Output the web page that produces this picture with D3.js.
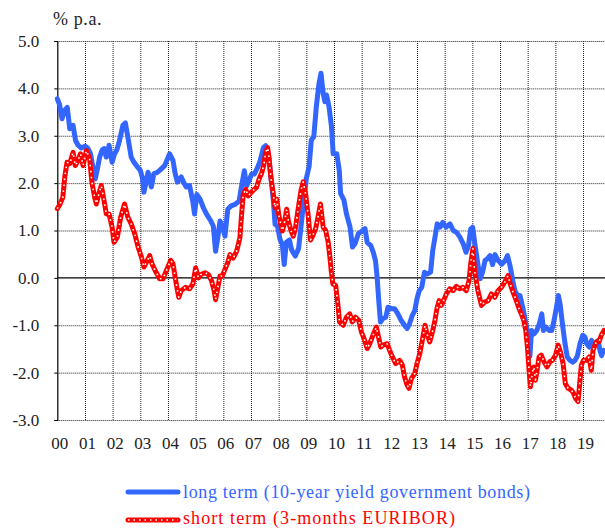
<!DOCTYPE html>
<html>
<head>
<meta charset="utf-8">
<script src="https://cdn.jsdelivr.net/npm/d3@7/dist/d3.min.js"></script>
<style>
  html, body { margin: 0; padding: 0; background: #fff; }
  svg { display: block; }
  text { font-family: "Liberation Serif", "Times New Roman", serif; }
</style>
</head>
<body>
<svg id="chart" width="605" height="531"></svg>
<script>
// Year labels along the bottom axis (two-digit years)
const yearLabels = ["00","01","02","03","04","05","06","07","08","09",
                    "10","11","12","13","14","15","16","17","18","19"];

// Value axis ticks, % p.a.
const yTicks = [5, 4, 3, 2, 1, 0, -1, -2, -3];

// Long-term rate: 10-year government bond yield, [decimal year, % p.a.]
const longTerm = [
  [2000.00, 3.78], [2000.08, 3.66], [2000.17, 3.36], [2000.27, 3.54], [2000.36, 3.60],
  [2000.45, 3.15], [2000.57, 3.22], [2000.66, 2.90], [2000.75, 2.80], [2000.87, 2.74],
  [2001.00, 2.78], [2001.10, 2.74], [2001.20, 2.62], [2001.30, 2.30], [2001.37, 2.09],
  [2001.45, 2.30], [2001.53, 2.55], [2001.62, 2.70], [2001.69, 2.73], [2001.77, 2.55],
  [2001.87, 2.80], [2001.98, 2.44], [2002.07, 2.62], [2002.15, 2.70], [2002.25, 2.90],
  [2002.37, 3.22], [2002.46, 3.27], [2002.55, 2.97], [2002.67, 2.55], [2002.76, 2.45],
  [2002.86, 2.37], [2003.00, 2.27], [2003.08, 2.10], [2003.13, 1.81], [2003.20, 2.00],
  [2003.28, 2.23], [2003.40, 1.92], [2003.49, 2.20], [2003.60, 2.22], [2003.70, 2.27],
  [2003.88, 2.37], [2004.06, 2.62], [2004.18, 2.48], [2004.26, 2.20], [2004.34, 2.02],
  [2004.48, 2.13], [2004.58, 2.00], [2004.66, 1.92], [2004.78, 1.95], [2004.90, 1.60],
  [2004.96, 1.35], [2005.04, 1.76], [2005.16, 1.66], [2005.28, 1.48], [2005.40, 1.34],
  [2005.55, 1.20], [2005.64, 1.09], [2005.72, 0.56], [2005.80, 0.85], [2005.88, 1.20],
  [2005.96, 1.09], [2006.06, 0.88], [2006.16, 1.45], [2006.28, 1.52], [2006.42, 1.55],
  [2006.57, 1.62], [2006.66, 1.94], [2006.76, 2.26], [2006.84, 1.94], [2006.93, 2.05],
  [2007.02, 2.19], [2007.12, 2.19], [2007.24, 2.33], [2007.33, 2.47], [2007.45, 2.75],
  [2007.53, 2.79], [2007.63, 2.61], [2007.72, 2.12], [2007.81, 1.62], [2007.87, 1.13],
  [2007.96, 1.09], [2008.05, 0.81], [2008.13, 0.71], [2008.20, 0.28], [2008.28, 0.75],
  [2008.39, 0.80], [2008.47, 0.59], [2008.60, 0.46], [2008.72, 0.62], [2008.82, 1.15],
  [2008.90, 1.60], [2009.00, 2.10], [2009.10, 2.35], [2009.18, 2.91], [2009.27, 2.98],
  [2009.36, 3.61], [2009.46, 4.11], [2009.53, 4.32], [2009.61, 3.89], [2009.67, 3.72],
  [2009.73, 3.86], [2009.82, 3.61], [2009.91, 3.19], [2009.97, 2.62], [2010.10, 2.62],
  [2010.19, 2.27], [2010.24, 1.78], [2010.36, 1.64], [2010.45, 1.35], [2010.58, 1.07],
  [2010.67, 0.65], [2010.76, 0.72], [2010.88, 0.93], [2011.04, 1.00], [2011.12, 1.04],
  [2011.20, 0.75], [2011.33, 0.68], [2011.42, 0.54], [2011.50, 0.36], [2011.56, 0.00],
  [2011.62, -0.50], [2011.68, -0.93], [2011.77, -0.86], [2011.87, -0.83], [2011.95, -0.62],
  [2012.07, -0.65], [2012.19, -0.65], [2012.31, -0.76], [2012.43, -0.90], [2012.55, -1.00],
  [2012.64, -1.07], [2012.73, -0.97], [2012.83, -0.79], [2012.92, -0.69], [2013.00, -0.44],
  [2013.08, -0.27], [2013.17, -0.20], [2013.27, 0.12], [2013.37, 0.08], [2013.49, 0.12],
  [2013.57, 0.58], [2013.65, 0.86], [2013.73, 1.14], [2013.83, 1.07], [2013.93, 1.17],
  [2014.05, 1.07], [2014.19, 1.14], [2014.31, 1.00], [2014.43, 0.96], [2014.55, 0.86],
  [2014.67, 0.72], [2014.77, 0.54], [2014.86, 0.68], [2014.94, 1.03], [2015.01, 1.07],
  [2015.10, 0.68], [2015.18, 0.37], [2015.28, -0.02], [2015.37, 0.12], [2015.46, 0.37],
  [2015.54, 0.40], [2015.64, 0.47], [2015.73, 0.28], [2015.82, 0.49], [2015.94, 0.36],
  [2016.06, 0.29], [2016.18, 0.36], [2016.27, 0.47], [2016.36, 0.26], [2016.46, -0.06],
  [2016.54, -0.27], [2016.63, -0.37], [2016.72, -0.37], [2016.82, -0.62], [2016.88, -0.79],
  [2016.96, -1.04], [2017.02, -1.32], [2017.08, -1.65], [2017.14, -1.11], [2017.23, -1.18],
  [2017.33, -1.11], [2017.42, -0.97], [2017.51, -0.76], [2017.57, -1.11], [2017.66, -1.04],
  [2017.78, -1.11], [2017.87, -1.11], [2017.95, -0.90], [2018.02, -0.69], [2018.11, -0.37],
  [2018.17, -0.55], [2018.27, -1.04], [2018.35, -1.39], [2018.43, -1.67], [2018.53, -1.74],
  [2018.63, -1.78], [2018.71, -1.74], [2018.80, -1.64], [2018.89, -1.39], [2018.99, -1.21],
  [2019.07, -1.25], [2019.13, -1.39], [2019.23, -1.46], [2019.31, -1.32], [2019.37, -1.42],
  [2019.47, -1.39], [2019.55, -1.32], [2019.61, -1.53], [2019.67, -1.64], [2019.74, -1.53]
];

// Short-term rate: 3-month EURIBOR, [decimal year, % p.a.]
const shortTerm = [
  [2000.00, 1.46], [2000.10, 1.56], [2000.20, 1.70], [2000.27, 2.13], [2000.35, 2.44],
  [2000.45, 2.41], [2000.57, 2.65], [2000.65, 2.37], [2000.75, 2.48], [2000.84, 2.62],
  [2000.93, 2.37], [2001.05, 2.69], [2001.17, 2.51], [2001.25, 2.02], [2001.35, 1.70],
  [2001.41, 1.56], [2001.50, 1.77], [2001.59, 1.95], [2001.69, 1.63], [2001.77, 1.35],
  [2001.87, 1.35], [2001.98, 1.07], [2002.05, 0.75], [2002.17, 0.86], [2002.29, 1.28],
  [2002.43, 1.56], [2002.55, 1.28], [2002.67, 1.14], [2002.80, 0.93], [2002.92, 0.65],
  [2003.04, 0.44], [2003.13, 0.23], [2003.22, 0.33], [2003.34, 0.47], [2003.42, 0.30],
  [2003.54, 0.15], [2003.70, -0.02], [2003.82, -0.02], [2003.94, 0.15], [2004.10, 0.37],
  [2004.18, 0.30], [2004.30, -0.13], [2004.39, -0.41], [2004.48, -0.27], [2004.63, -0.20],
  [2004.78, -0.23], [2004.90, -0.13], [2005.00, 0.21], [2005.10, 0.00], [2005.19, 0.07],
  [2005.34, 0.11], [2005.46, 0.07], [2005.58, -0.07], [2005.67, -0.28], [2005.72, -0.46],
  [2005.80, -0.21], [2005.88, 0.04], [2005.96, 0.04], [2006.06, 0.18], [2006.16, 0.32],
  [2006.24, 0.49], [2006.36, 0.42], [2006.48, 0.56], [2006.60, 0.85], [2006.66, 1.34],
  [2006.72, 1.76], [2006.81, 1.87], [2006.90, 1.73], [2007.00, 1.80], [2007.12, 1.87],
  [2007.20, 1.91], [2007.29, 2.08], [2007.39, 2.22], [2007.47, 2.40], [2007.53, 2.65],
  [2007.60, 2.75], [2007.65, 2.54], [2007.72, 2.12], [2007.81, 1.76], [2007.87, 1.48],
  [2007.93, 1.66], [2008.01, 1.31], [2008.08, 1.13], [2008.13, 0.99], [2008.20, 1.13],
  [2008.29, 1.45], [2008.35, 1.20], [2008.45, 0.99], [2008.53, 0.88], [2008.61, 1.06],
  [2008.71, 1.48], [2008.81, 1.85], [2008.89, 2.03], [2008.98, 1.75], [2009.07, 1.30],
  [2009.15, 0.80], [2009.24, 0.90], [2009.34, 1.05], [2009.42, 1.28], [2009.51, 1.56],
  [2009.61, 1.07], [2009.70, 1.00], [2009.79, 0.75], [2009.85, 0.45], [2009.90, 0.15],
  [2009.96, -0.13], [2010.06, -0.16], [2010.14, -0.55], [2010.20, -0.93], [2010.33, -1.00],
  [2010.45, -0.83], [2010.57, -0.76], [2010.66, -0.93], [2010.78, -0.83], [2010.90, -0.90],
  [2010.99, -1.14], [2011.11, -1.32], [2011.20, -1.49], [2011.29, -1.39], [2011.41, -1.21],
  [2011.53, -1.04], [2011.61, -1.25], [2011.69, -1.46], [2011.77, -1.42], [2011.92, -1.39],
  [2012.01, -1.53], [2012.11, -1.67], [2012.23, -1.81], [2012.37, -1.74], [2012.47, -1.84],
  [2012.55, -2.09], [2012.64, -2.26], [2012.71, -2.33], [2012.80, -2.12], [2012.92, -2.02],
  [2013.00, -1.81], [2013.10, -1.60], [2013.19, -1.32], [2013.29, -1.00], [2013.36, -1.18],
  [2013.46, -1.35], [2013.54, -1.18], [2013.64, -0.93], [2013.72, -0.65], [2013.80, -0.48],
  [2013.88, -0.58], [2013.96, -0.48], [2014.06, -0.34], [2014.18, -0.23], [2014.30, -0.27],
  [2014.42, -0.18], [2014.54, -0.23], [2014.66, -0.20], [2014.78, -0.27], [2014.88, -0.06],
  [2014.94, 0.29], [2015.02, 0.62], [2015.08, 0.15], [2015.20, -0.27], [2015.33, -0.58],
  [2015.45, -0.51], [2015.57, -0.48], [2015.69, -0.34], [2015.81, -0.41], [2015.93, -0.27],
  [2016.05, -0.20], [2016.17, -0.09], [2016.29, 0.05], [2016.37, -0.13], [2016.47, -0.30],
  [2016.59, -0.48], [2016.69, -0.65], [2016.77, -0.76], [2016.86, -0.90], [2016.93, -1.11],
  [2016.99, -1.46], [2017.05, -1.95], [2017.10, -2.30], [2017.16, -2.02], [2017.22, -1.88],
  [2017.28, -2.16], [2017.34, -1.95], [2017.41, -1.67], [2017.49, -1.63], [2017.59, -1.77],
  [2017.70, -1.88], [2017.80, -1.77], [2017.89, -1.74], [2018.01, -1.63], [2018.10, -1.42],
  [2018.18, -1.56], [2018.28, -1.81], [2018.36, -2.23], [2018.46, -2.33], [2018.58, -2.37],
  [2018.66, -2.44], [2018.73, -2.54], [2018.82, -2.61], [2018.88, -2.23], [2018.94, -1.84],
  [2019.02, -1.74], [2019.12, -1.74], [2019.22, -1.67], [2019.30, -1.95], [2019.36, -1.53],
  [2019.48, -1.35], [2019.58, -1.35], [2019.66, -1.21], [2019.76, -1.11]
];

const seriesNames = ["long term (10-year yield government bonds)", "short term (3-months EURIBOR)"];

const BLUE = "#3366ff";
const RED = "#ff0000";

const svg = d3.select("#chart");
const plot = { left: 57.3, top: 41, right: 610.7, bottom: 420 };

const x = d3.scaleLinear().domain([2000, 2020]).range([plot.left, plot.right]);
const y = d3.scaleLinear().domain([-3, 5]).range([plot.bottom, plot.top]);

// One decimal, plain hyphen for negatives
const fmtValue = v => d3.format(".1f")(v).replace("\u2212", "-");

const g = svg.append("g");

// Dotted grid: horizontal lines at each tick, vertical lines at each year start
const yearStarts = yearLabels.map((_, i) => 2000 + i);
g.append("g")
  .attr("transform", `translate(0,${plot.bottom})`)
  .call(d3.axisBottom(x).tickValues(yearStarts.slice(1).concat([2020]))
          .tickSize(-(plot.bottom - plot.top)).tickFormat(""))
  .call(a => a.select(".domain").remove())
  .call(a => a.selectAll("line").attr("stroke", "#222").attr("stroke-dasharray", "1,1"));

g.append("g")
  .attr("transform", `translate(${plot.left},0)`)
  .call(d3.axisLeft(y).tickValues(yTicks.filter(v => v !== 0))
          .tickSize(-(plot.right - plot.left)).tickFormat(""))
  .call(a => a.select(".domain").remove())
  .call(a => a.selectAll("line").attr("stroke", "#222").attr("stroke-dasharray", "1,1"));

// Zero line, solid
g.append("line")
  .attr("x1", plot.left).attr("x2", plot.right)
  .attr("y1", y(0)).attr("y2", y(0))
  .attr("stroke", "#000").attr("stroke-width", 1.2);

// Left value axis with labels
g.append("g")
  .attr("transform", `translate(${plot.left},0)`)
  .call(d3.axisLeft(y).tickValues(yTicks).tickSize(3).tickPadding(15)
          .tickFormat(fmtValue))
  .call(a => a.select(".domain").attr("stroke", "#000").attr("stroke-width", 1.2))
  .call(a => a.selectAll("line").attr("stroke", "#000"))
  .call(a => a.selectAll("text")
          .attr("font-size", 17).attr("fill", "#222"));

// Year labels at the year starts
g.append("g")
  .attr("transform", `translate(0,${plot.bottom})`)
  .call(d3.axisBottom(x).tickValues(yearStarts).tickSize(0).tickPadding(17)
          .tickFormat((d, i) => yearLabels[i]))
  .call(a => a.select(".domain").remove())
  .call(a => a.selectAll("text")
          .attr("font-size", 17).attr("fill", "#222")
          .attr("dx", 2));

// Unit label
svg.append("text")
  .attr("x", 53).attr("y", 25)
  .attr("font-size", 18).attr("fill", "#222")
  .attr("letter-spacing", 0.6)
  .text("% p.a.");

const line = d3.line().x(d => x(d[0])).y(d => y(d[1]));

// Long-term yield: solid blue
g.append("path")
  .datum(longTerm)
  .attr("d", line)
  .attr("fill", "none").attr("stroke", BLUE)
  .attr("stroke-width", 5).attr("stroke-linejoin", "round").attr("stroke-linecap", "round");

// Short-term rate: red with a fine white dotted core
g.append("path")
  .datum(shortTerm)
  .attr("d", line)
  .attr("fill", "none").attr("stroke", RED)
  .attr("stroke-width", 5).attr("stroke-linejoin", "round").attr("stroke-linecap", "round");
g.append("path")
  .datum(shortTerm)
  .attr("d", line)
  .attr("fill", "none").attr("stroke", "#fff")
  .attr("stroke-width", 1.6).attr("stroke-dasharray", "1.6,4.4")
  .attr("stroke-linejoin", "round");

// Legend
const legend = svg.append("g");
const legendRows = [
  { name: seriesNames[0], color: BLUE, dotted: false, y: 492, base: 498, width: 347 },
  { name: seriesNames[1], color: RED, dotted: true, y: 520, base: 524, width: 272 }
];
legendRows.forEach(r => {
  legend.append("line")
    .attr("x1", 128).attr("x2", 178).attr("y1", r.y).attr("y2", r.y)
    .attr("stroke", r.color).attr("stroke-width", 5).attr("stroke-linecap", "round");
  if (r.dotted) {
    legend.append("line")
      .attr("x1", 128).attr("x2", 178).attr("y1", r.y).attr("y2", r.y)
      .attr("stroke", "#fff").attr("stroke-width", 1.4).attr("stroke-dasharray", "1.5,4");
  }
  legend.append("text")
    .attr("x", 183).attr("y", r.base)
    .attr("font-size", 18).attr("fill", r.color)
    .attr("textLength", r.width).attr("lengthAdjust", "spacing")
    .text(r.name);
});
</script>
</body>
</html>
